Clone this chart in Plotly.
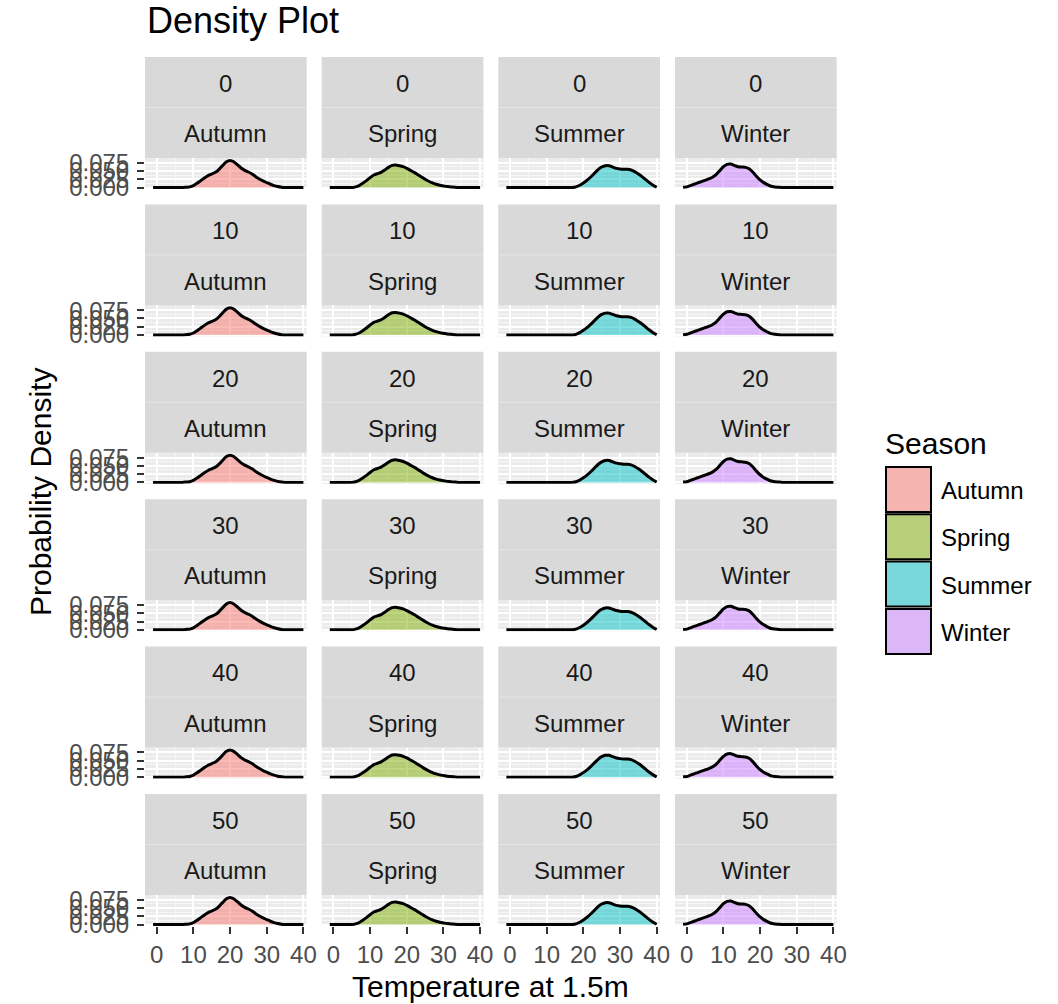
import plotly.graph_objects as go

# ---------------- data ----------------
heights = [0, 10, 20, 30, 40, 50]
seasons = ["Autumn", "Spring", "Summer", "Winter"]
temperature = list(range(-1, 41))

autumn_density = [0.000, 0.000, 0.000, 0.000, 0.000, 0.000, 0.000, 0.000, 0.000, 0.001,
                  0.002, 0.006, 0.013, 0.021, 0.029, 0.036, 0.041, 0.046, 0.055, 0.067,
                  0.078, 0.082, 0.078, 0.069, 0.059, 0.052, 0.047, 0.041, 0.033, 0.026,
                  0.020, 0.015, 0.010, 0.006, 0.003, 0.001, 0.000, 0.000, 0.000, 0.000,
                  0.000, 0.000]
spring_density = [0.000, 0.000, 0.000, 0.000, 0.000, 0.000, 0.000, 0.002, 0.006, 0.013,
                  0.021, 0.030, 0.038, 0.042, 0.046, 0.053, 0.061, 0.067, 0.068, 0.066,
                  0.063, 0.058, 0.052, 0.046, 0.039, 0.032, 0.025, 0.019, 0.014, 0.010,
                  0.007, 0.005, 0.003, 0.002, 0.001, 0.000, 0.000, 0.000, 0.000, 0.000,
                  0.000, 0.000]
summer_density = [0.000, 0.000, 0.000, 0.000, 0.000, 0.000, 0.000, 0.000, 0.000, 0.000,
                  0.000, 0.000, 0.000, 0.000, 0.000, 0.000, 0.000, 0.000, 0.000, 0.002,
                  0.007, 0.014, 0.022, 0.032, 0.043, 0.054, 0.062, 0.066, 0.066, 0.062,
                  0.058, 0.056, 0.055, 0.055, 0.053, 0.048, 0.041, 0.033, 0.024, 0.015,
                  0.007, 0.001]
winter_density = [0.001, 0.002, 0.006, 0.010, 0.014, 0.018, 0.022, 0.026, 0.031, 0.039,
                  0.051, 0.063, 0.070, 0.071, 0.067, 0.063, 0.062, 0.061, 0.057, 0.047,
                  0.034, 0.023, 0.015, 0.009, 0.004, 0.002, 0.001, 0.000, 0.000, 0.000,
                  0.000, 0.000, 0.000, 0.000, 0.000, 0.000, 0.000, 0.000, 0.000, 0.000,
                  0.000, 0.000]
densities = [autumn_density, spring_density, summer_density, winter_density]

x_tickvals = [0, 10, 20, 30, 40]
y_tickvals = [0.0, 0.025, 0.05, 0.075]
y_ticktext = ["0.000", "0.025", "0.050", "0.075"]

fill_colors = ["rgba(248,118,109,0.5)", "rgba(124,174,0,0.5)",
               "rgba(0,191,196,0.5)", "rgba(199,124,255,0.5)"]
key_colors = ["#F5B4AF", "#B7D079", "#79D8DB", "#DCB7F8"]

# ---------------- layout constants ----------------
W, H = 1058, 1004
FONT = "Liberation Sans, Arial, Helvetica, sans-serif"
col_left = [145, 321.7, 498.3, 675]
panel_w = 161.7
row_top0 = 57
row_pitch = 147.4
strip_h = 101
panel_bottom_off = 132

def px(v):
    return v / W

def py(v):
    return 1 - v / H

fig = go.Figure()
shapes = []
annotations = []
layout_axes = {}

for r, hgt in enumerate(heights):
    top = row_top0 + r * row_pitch
    strip_bot = top + strip_h
    pan_bot = top + panel_bottom_off
    for c, season in enumerate(seasons):
        idx = r * 4 + c + 1
        xs = "x" if idx == 1 else f"x{idx}"
        ys = "y" if idx == 1 else f"y{idx}"
        xk = "xaxis" if idx == 1 else f"xaxis{idx}"
        yk = "yaxis" if idx == 1 else f"yaxis{idx}"
        left = col_left[c]
        right = left + panel_w

        fig.add_trace(go.Scatter(
            x=temperature, y=densities[c], xaxis=xs, yaxis=ys,
            mode="lines", line=dict(color="black", width=3, shape="spline", smoothing=0.6),
            fill="tozeroy", fillcolor=fill_colors[c], showlegend=False, hoverinfo="skip"))

        bottom_row = (r == len(heights) - 1)
        left_col = (c == 0)
        layout_axes[xk] = dict(
            domain=[px(left), px(right)], anchor=ys, range=[-3.2, 40.9], automargin=False,
            tickvals=x_tickvals, showticklabels=bottom_row,
            ticks="outside" if bottom_row else "", ticklen=7, tickwidth=2, tickcolor="#333333",
            tickfont=dict(size=24, color="#4D4D4D", family=FONT),
            showgrid=True, gridcolor="white", gridwidth=1.5, zeroline=False, showline=False,
            minor=dict(tickvals=[-5, 5, 15, 25, 35], showgrid=True, gridcolor="#F6F6F6", gridwidth=0.8),
            fixedrange=True)
        layout_axes[yk] = dict(
            domain=[py(pan_bot), py(strip_bot)], anchor=xs, range=[-0.0043, 0.0893], automargin=False,
            tickvals=y_tickvals, ticktext=y_ticktext, showticklabels=left_col,
            ticks="outside" if left_col else "", ticklen=7, tickwidth=2, tickcolor="#333333",
            tickfont=dict(size=24, color="#4D4D4D", family=FONT), ticklabelstandoff=3,
            showgrid=True, gridcolor="white", gridwidth=1.5, zeroline=False, showline=False,
            minor=dict(tickvals=[0.0125, 0.0375, 0.0625, 0.0875], showgrid=True,
                       gridcolor="#F6F6F6", gridwidth=0.8),
            fixedrange=True)

        # strip
        shapes.append(dict(type="rect", xref="paper", yref="paper",
                           x0=px(left), x1=px(right), y0=py(strip_bot), y1=py(top),
                           fillcolor="#D9D9D9", line=dict(width=0), layer="below"))
        mid = top + strip_h / 2
        shapes.append(dict(type="line", xref="paper", yref="paper",
                           x0=px(left), x1=px(right), y0=py(mid), y1=py(mid),
                           line=dict(color="#E6E6E6", width=1)))
        cx = px((left + right) / 2)
        annotations.append(dict(text=str(hgt), x=cx, y=py(top + strip_h * 0.25 + 1),
                                xref="paper", yref="paper", showarrow=False,
                                xanchor="center", yanchor="middle",
                                font=dict(size=24, color="#1A1A1A", family=FONT)))
        annotations.append(dict(text=season, x=cx, y=py(top + strip_h * 0.75 + 1),
                                xref="paper", yref="paper", showarrow=False,
                                xanchor="center", yanchor="middle",
                                font=dict(size=24, color="#1A1A1A", family=FONT)))

# title and axis titles
annotations.append(dict(text="Density Plot", x=px(145), y=py(21), xref="paper", yref="paper",
                        showarrow=False, xanchor="left", yanchor="middle",
                        font=dict(size=36, color="black", family=FONT)))
annotations.append(dict(text="Temperature at 1.5m", x=px(490), y=py(986), xref="paper", yref="paper",
                        showarrow=False, xanchor="center", yanchor="middle",
                        font=dict(size=30, color="black", family=FONT)))
annotations.append(dict(text="Probability Density", x=px(40), y=py(492), xref="paper", yref="paper",
                        showarrow=False, xanchor="center", yanchor="middle", textangle=-90,
                        font=dict(size=30, color="black", family=FONT)))

# legend
annotations.append(dict(text="Season", x=px(883), y=py(443), xref="paper", yref="paper",
                        showarrow=False, xanchor="left", yanchor="middle",
                        font=dict(size=30, color="black", family=FONT)))
key_top0 = 467
key_pitch = 47.3
key_size = 45
for i, season in enumerate(seasons):
    kt = key_top0 + i * key_pitch
    shapes.append(dict(type="rect", xref="paper", yref="paper",
                       x0=px(886), x1=px(886 + key_size), y0=py(kt + key_size), y1=py(kt),
                       fillcolor=key_colors[i], line=dict(color="black", width=2)))
    annotations.append(dict(text=season, x=px(939), y=py(kt + key_size / 2 + 1), xref="paper", yref="paper",
                            showarrow=False, xanchor="left", yanchor="middle",
                            font=dict(size=24, color="black", family=FONT)))

fig.update_layout(
    width=W, height=H, margin=dict(l=0, r=0, t=0, b=0, autoexpand=False),
    paper_bgcolor="white", plot_bgcolor="#EBEBEB",
    showlegend=False, shapes=shapes, annotations=annotations,
    font=dict(family=FONT),
    **layout_axes)

fig.write_html("out.html")
